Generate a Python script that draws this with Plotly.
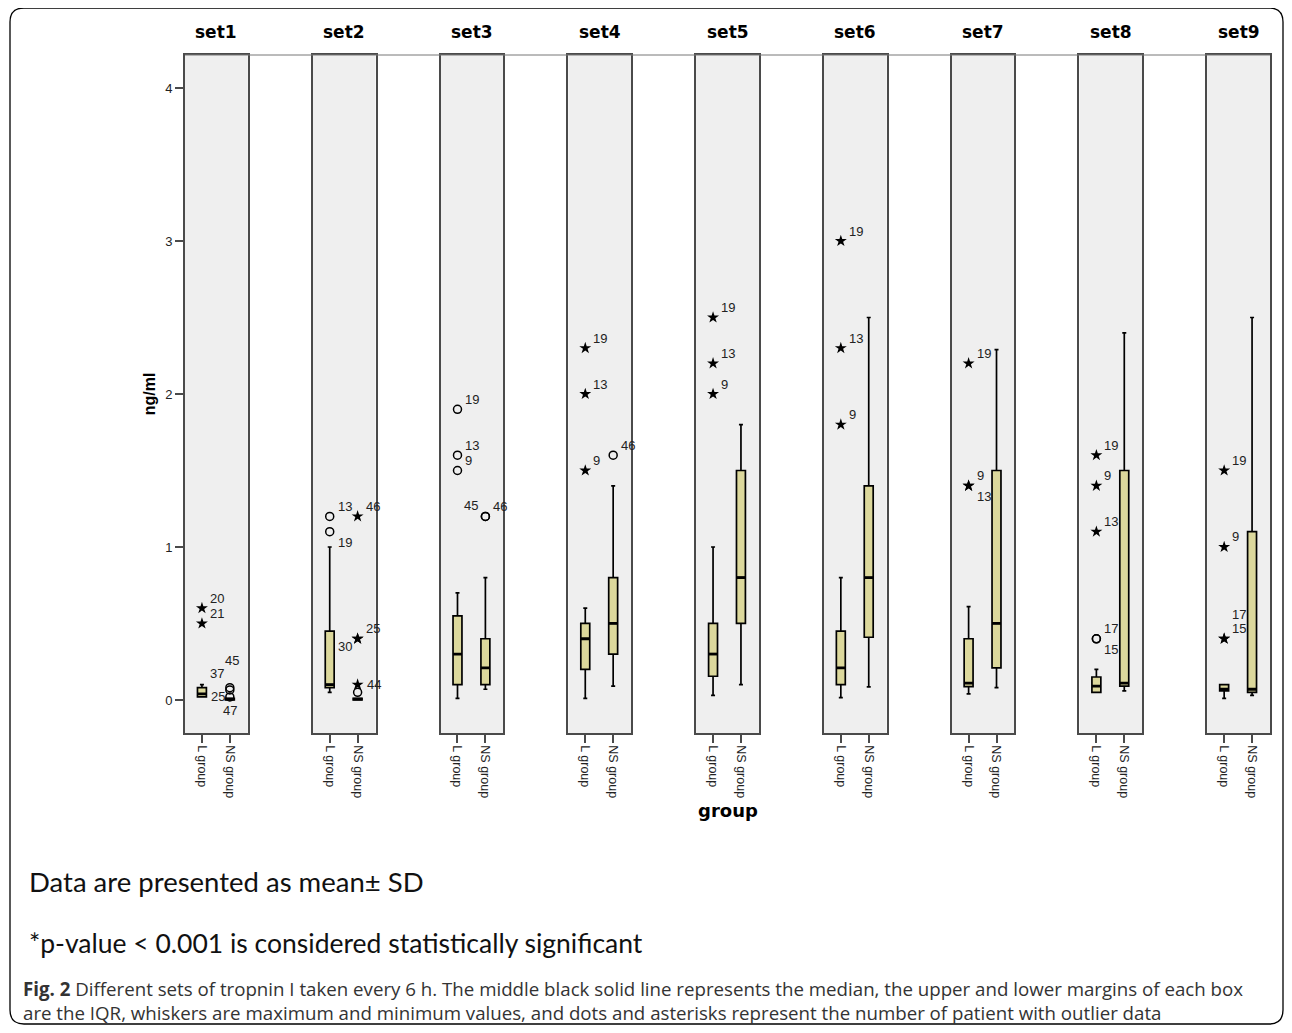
import plotly.graph_objects as go
from plotly.subplots import make_subplots

# ---------------- data ----------------
sets = ["set1", "set2", "set3", "set4", "set5", "set6", "set7", "set8", "set9"]
groups = ["L group", "NS group"]

# L group box statistics (ng/ml)
l_low = [0.02, 0.05, 0.01, 0.01, 0.03, 0.015, 0.04, 0.05, 0.01]
l_q1 = [0.02, 0.08, 0.10, 0.20, 0.155, 0.10, 0.087, 0.05, 0.06]
l_med = [0.04, 0.10, 0.30, 0.40, 0.30, 0.21, 0.11, 0.09, 0.07]
l_q3 = [0.08, 0.45, 0.55, 0.50, 0.50, 0.45, 0.40, 0.15, 0.10]
l_high = [0.10, 1.00, 0.70, 0.60, 1.00, 0.80, 0.61, 0.20, 0.10]

# NS group box statistics (ng/ml)
ns_low = [0.00, 0.00, 0.07, 0.09, 0.10, 0.085, 0.08, 0.06, 0.03]
ns_q1 = [0.00, 0.00, 0.10, 0.30, 0.50, 0.41, 0.21, 0.09, 0.05]
ns_med = [0.005, 0.005, 0.21, 0.50, 0.80, 0.80, 0.50, 0.11, 0.07]
ns_q3 = [0.01, 0.01, 0.40, 0.80, 1.50, 1.40, 1.50, 1.50, 1.10]
ns_high = [0.01, 0.01, 0.80, 1.40, 1.80, 2.50, 2.29, 2.40, 2.50]

# outliers: set index, group index, value, patient label, marker kind, label placement
out_set = [0, 0, 0, 0, 0, 0, 0,
           1, 1, 1, 1, 1, 1, 1,
           2, 2, 2, 2, 2,
           3, 3, 3, 3,
           4, 4, 4,
           5, 5, 5,
           6, 6, 6,
           7, 7, 7, 7, 7,
           8, 8, 8, 8]
out_group = [0, 0, 0, 0, 1, 1, 1,
             0, 0, 1, 1, 1, 1, 1,
             0, 0, 0, 1, 1,
             0, 0, 0, 1,
             0, 0, 0,
             0, 0, 0,
             0, 0, 0,
             0, 0, 0, 0, 0,
             0, 0, 0, 0]
out_value = [0.60, 0.50, 0.11, 0.02, 0.08, 0.065, 0.02,
             1.20, 1.10, 1.20, 0.40, 0.40, 0.10, 0.05,
             1.90, 1.60, 1.50, 1.20, 1.20,
             2.30, 2.00, 1.50, 1.60,
             2.50, 2.20, 2.00,
             3.00, 2.30, 1.80,
             2.20, 1.40, 1.40,
             1.60, 1.40, 1.10, 0.40, 0.40,
             1.50, 1.00, 0.40, 0.40]
out_label = ["20", "21", "37", "25", "45", "", "47",
             "13", "19", "46", "25", "30", "44", "",
             "19", "13", "9", "46", "45",
             "19", "13", "9", "46",
             "19", "13", "9",
             "19", "13", "9",
             "19", "9", "13",
             "19", "9", "13", "17", "15",
             "19", "9", "15", "17"]
out_kind = ["star", "star", "hidden", "hidden", "circle", "circle", "circle",
            "circle", "circle", "star", "star", "star", "star", "circle",
            "circle", "circle", "circle", "circle", "circle",
            "star", "star", "star", "circle",
            "star", "star", "star",
            "star", "star", "star",
            "star", "star", "star",
            "star", "star", "star", "circle", "circle",
            "star", "star", "star", "star"]
out_place = ["ur", "ur", "ur", "r", "uu", "", "d",
             "ur", "lr", "ur", "ur", "ll", "r", "",
             "ur", "ur", "ur", "ur", "ul",
             "ur", "ur", "ur", "ur",
             "ur", "ur", "ur",
             "ur", "ur", "ur",
             "ur", "ur", "lr",
             "ur", "ur", "ur", "ur", "lr",
             "ur", "ur", "ur", "uur"]

# ---------------- styling ----------------
BOX_FILL = "#dcd89c"
PANEL_BG = "#efefef"
FRAME = "#4a4a4a"
ARIAL = "Liberation Sans, Arial, sans-serif"
NARROW = "Liberation Sans Narrow, Arial Narrow, Liberation Sans, sans-serif"

OFF = 8  # page body margin in the browser
W, H = 1276, 1017
ML, MT = 185 - OFF, 55 - OFF
PLOT_R, PLOT_B = 1270 - OFF, 733 - OFF
MR, MB = W - PLOT_R, H - PLOT_B
plot_w = PLOT_R - ML
plot_h = PLOT_B - MT
Y_RANGE = [-0.216, 4.216]
X_RANGE = [-0.607, 1.643]

fig = make_subplots(rows=1, cols=9, shared_yaxes=True,
                    horizontal_spacing=65 / plot_w)

box_w = 0.32
for i, s in enumerate(sets):
    col = i + 1
    for g, (lo, q1, md, q3, hi) in enumerate([
            (l_low[i], l_q1[i], l_med[i], l_q3[i], l_high[i]),
            (ns_low[i], ns_q1[i], ns_med[i], ns_q3[i], ns_high[i])]):
        fig.add_trace(go.Box(
            x=[g], q1=[q1], median=[md], q3=[q3],
            lowerfence=[lo], upperfence=[hi],
            width=box_w, whiskerwidth=0.45,
            fillcolor=BOX_FILL,
            line=dict(color="black", width=1.7),
            boxpoints=False, showlegend=False, hoverinfo="skip"),
            row=1, col=col)
        # thick median line
        fig.add_trace(go.Scatter(
            x=[g - box_w / 2, g + box_w / 2], y=[md, md], mode="lines",
            line=dict(color="black", width=2.8),
            showlegend=False, hoverinfo="skip"), row=1, col=col)

# outlier markers
for i in range(len(sets)):
    idx = [k for k in range(len(out_set)) if out_set[k] == i]
    for kind in ["star", "circle"]:
        sel = [k for k in idx if out_kind[k] == kind]
        if not sel:
            continue
        if kind == "star":
            mk = dict(symbol="star", size=9, color="black",
                      line=dict(width=0))
        else:
            mk = dict(symbol="circle-open", size=8, color="black",
                      line=dict(width=1.5))
        fig.add_trace(go.Scatter(
            x=[out_group[k] for k in sel], y=[out_value[k] for k in sel],
            mode="markers", marker=mk, showlegend=False, hoverinfo="skip"),
            row=1, col=i + 1)

# outlier labels
place_map = {
    "ur": dict(xanchor="left", xshift=6, yshift=10),
    "lr": dict(xanchor="left", xshift=6, yshift=-11),
    "r": dict(xanchor="left", xshift=7, yshift=0),
    "ul": dict(xanchor="right", xshift=-5, yshift=11),
    "ll": dict(xanchor="right", xshift=-4, yshift=-8),
    "uu": dict(xanchor="center", xshift=2, yshift=27),
    "uur": dict(xanchor="left", xshift=6, yshift=24),
    "d": dict(xanchor="center", xshift=0, yshift=-14),
}
for k in range(len(out_set)):
    if not out_label[k]:
        continue
    xr = "x" if out_set[k] == 0 else f"x{out_set[k] + 1}"
    yr = "y" if out_set[k] == 0 else f"y{out_set[k] + 1}"
    p = place_map[out_place[k]]
    fig.add_annotation(x=out_group[k], y=out_value[k], xref=xr, yref=yr,
                       text=out_label[k], showarrow=False, yanchor="middle",
                       font=dict(family=ARIAL, size=13, color="#222"), **p)

# axes
for i in range(9):
    fig.update_xaxes(range=X_RANGE, tickmode="array", tickvals=[0, 1],
                     ticktext=groups, tickangle=90, ticks="outside",
                     ticklen=8, tickcolor=FRAME, tickwidth=1.5,
                     showline=True, mirror=True, linecolor=FRAME,
                     linewidth=1.6, showgrid=False, zeroline=False,
                     tickfont=dict(family=NARROW, size=12.5, color="#222"),
                     row=1, col=i + 1)
    fig.update_yaxes(range=Y_RANGE, showline=True, mirror=True,
                     linecolor=FRAME, linewidth=1.6, showgrid=False,
                     zeroline=False, row=1, col=i + 1)
fig.update_yaxes(tickmode="array", tickvals=[0, 1, 2, 3, 4], ticks="outside",
                 ticklen=8, tickcolor=FRAME, tickwidth=1.5,
                 tickfont=dict(family=ARIAL, size=13, color="#222"),
                 title=dict(text="<b>ng/ml</b>", standoff=6,
                            font=dict(family=NARROW, size=16, color="black")),
                 row=1, col=1)

# set titles
for i, s in enumerate(sets):
    xr = "x domain" if i == 0 else f"x{i + 1} domain"
    fig.add_annotation(x=0.5, y=1, xref=xr, yref="paper", yanchor="bottom",
                       yshift=11, text=f"<b>{s}</b>", showarrow=False,
                       font=dict(family="DejaVu Sans, Verdana", size=17,
                                 color="black"))


def px_x(px):
    return (px - OFF - ML) / plot_w


def px_y(py):
    return (PLOT_B - (py - OFF)) / plot_h


# x axis title
fig.add_annotation(x=px_x(728), y=px_y(810), xref="paper", yref="paper",
                   xanchor="center", yanchor="middle",
                   text="<b>group</b>", showarrow=False,
                   font=dict(family="DejaVu Sans, Verdana", size=18,
                             color="black"))

# top connecting line
fig.add_shape(type="line", xref="paper", yref="paper", x0=0, x1=1, y0=1,
              y1=1, line=dict(color="#777", width=1))

# rounded outer frame
x0, x1 = px_x(10), px_x(1283)
y0, y1 = px_y(1024), px_y(8)
rx, ry = 14 / plot_w, 14 / plot_h
path = (f"M {x0 + rx},{y1} L {x1 - rx},{y1} Q {x1},{y1} {x1},{y1 - ry} "
        f"L {x1},{y0 + ry} Q {x1},{y0} {x1 - rx},{y0} L {x0 + rx},{y0} "
        f"Q {x0},{y0} {x0},{y0 + ry} L {x0},{y1 - ry} Q {x0},{y1} {x0 + rx},{y1} Z")
fig.add_shape(type="path", path=path, xref="paper", yref="paper",
              line=dict(color="black", width=1.3))

# captions
CAP = "Lato, Open Sans, sans-serif"
fig.add_annotation(x=px_x(27), y=px_y(881), xref="paper", yref="paper",
                   xanchor="left", yanchor="middle", showarrow=False,
                   text="Data are presented as mean\u00b1 SD",
                   font=dict(family=CAP, size=27.5, color="#111"))
fig.add_annotation(x=px_x(27), y=px_y(943), xref="paper", yref="paper",
                   xanchor="left", yanchor="middle", showarrow=False,
                   text="*p-value < 0.001 is considered statistically significant",
                   font=dict(family=CAP, size=26.5, color="#111"))
fig.add_annotation(x=px_x(21), y=px_y(1000), xref="paper", yref="paper",
                   xanchor="left", yanchor="middle", showarrow=False,
                   align="left",
                   text=("<b>Fig. 2</b> Different sets of tropnin I taken every 6 h. "
                         "The middle black solid line represents the median, the upper and lower margins of each box<br>"
                         "are the IQR, whiskers are maximum and minimum values, and dots and asterisks "
                         "represent the number of patient with outlier data"),
                   font=dict(family="Open Sans, sans-serif", size=18.7,
                             color="#333"))

fig.update_layout(width=W, height=H, paper_bgcolor="white",
                  plot_bgcolor=PANEL_BG,
                  margin=dict(l=ML, r=MR, t=MT, b=MB, autoexpand=False),
                  showlegend=False)

fig.write_html("out.html")
